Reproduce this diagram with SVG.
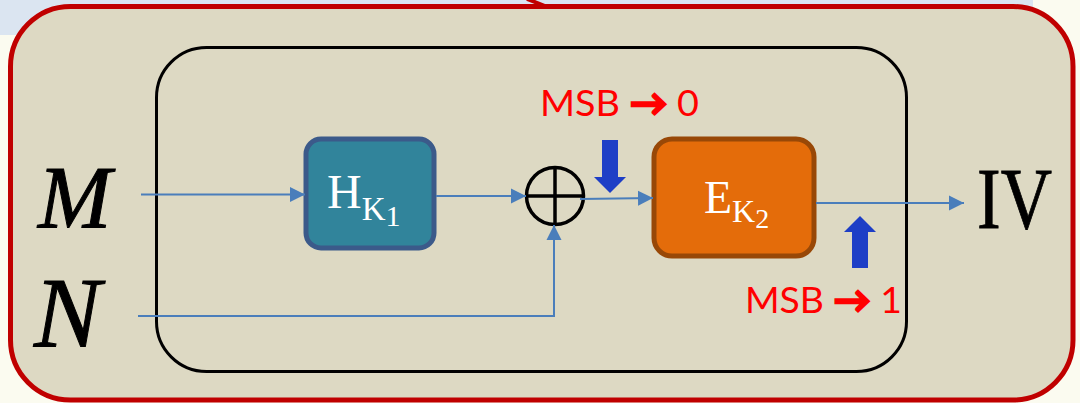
<svg xmlns="http://www.w3.org/2000/svg" width="1080" height="403" viewBox="0 0 1080 403">
<defs>
<style>
.conn{fill:none;stroke:#4a7ebb;stroke-width:2}
.math{font-family:"Liberation Serif","DejaVu Serif",serif;fill:#000}
.lbl{font-family:"Liberation Serif","DejaVu Serif",serif;fill:#fff}
.msb{font-family:Lato,"Open Sans","Liberation Sans",sans-serif;fill:#ff0000;font-size:36px}
.arr{font-weight:bold;stroke:#ff0000;stroke-width:2}
.barrow{fill:#1d3ec6}
</style>
<marker id="ah" markerWidth="16" markerHeight="16" viewBox="0 0 16 16" refX="15" refY="8" orient="auto" markerUnits="userSpaceOnUse">
<path d="M0,0.5 L15,8 L0,15.5 Z" fill="#4a7ebb"/>
</marker>
</defs>
<rect x="0" y="0" width="1080" height="403" fill="#fbfbf0"/>
<rect x="0" y="0" width="1033" height="35" fill="#dbe5f1"/>
<path d="M527,-1 L545,6" stroke="#c00000" stroke-width="4" fill="none"/>
<g id="outer">
<rect x="10.5" y="6.5" width="1062.5" height="393.5" rx="60" ry="60" fill="#ddd9c3" stroke="#c00000" stroke-width="5"/>
</g>
<g id="inner">
<rect x="156.5" y="47.5" width="750" height="324" rx="50" ry="50" fill="none" stroke="#000" stroke-width="3"/>
</g>
<g id="labelM"><text class="math" x="38" y="227" font-size="88" font-style="italic" stroke="#000" stroke-width="1">M</text></g>
<g id="labelN"><text class="math" x="34" y="346" font-size="100" font-style="italic" stroke="#000" stroke-width="1">N</text></g>
<g id="labelIV"><text class="math" x="977" y="228" font-size="86" textLength="75" lengthAdjust="spacingAndGlyphs" stroke="#000" stroke-width="0.8">IV</text></g>
<g id="H">
<rect x="306" y="139" width="128" height="109" rx="15" ry="15" fill="#31849b" stroke="#3b5a8a" stroke-width="5"/>
<text class="lbl" x="327" y="208" font-size="48">H<tspan font-size="33" dy="12">K</tspan><tspan font-size="30" dy="6">1</tspan></text>
</g>
<g id="E">
<rect x="654" y="139" width="160" height="117" rx="18" ry="18" fill="#e46c0a" stroke="#984807" stroke-width="5"/>
<text class="lbl" x="704" y="213" font-size="46">E<tspan font-size="32" dy="9">K</tspan><tspan font-size="28" dy="6">2</tspan></text>
</g>
<g id="xor">
<circle cx="555" cy="196" r="28.5" fill="none" stroke="#000" stroke-width="3.5"/>
<line x1="526.5" y1="196" x2="583.5" y2="196" stroke="#000" stroke-width="3.5"/>
<line x1="555" y1="167.5" x2="555" y2="224.5" stroke="#000" stroke-width="3.5"/>
</g>
<g id="arrow-down"><path class="barrow" d="M602,140 L618,140 L618,177 L626,177 L610,193 L594,177 L602,177 Z"/></g>
<g id="arrow-up"><path class="barrow" d="M852,268 L868,268 L868,232 L876,232 L860,216 L844,232 L852,232 Z"/></g>
<g id="msb0"><text class="msb" x="540" y="116" textLength="159" lengthAdjust="spacingAndGlyphs">MSB <tspan class="arr">→</tspan> 0</text></g>
<g id="msb1"><text class="msb" x="745" y="313" textLength="157" lengthAdjust="spacingAndGlyphs">MSB <tspan class="arr">→</tspan> 1</text></g>
<g id="connectors">
<path class="conn" d="M141,194.5 L305,194.5" marker-end="url(#ah)"/>
<path class="conn" d="M436,196 L526,196" marker-end="url(#ah)"/>
<path class="conn" d="M138,316 L554,316 L554,225" marker-end="url(#ah)"/>
<path class="conn" d="M580,199 L653,198" marker-end="url(#ah)"/>
<path class="conn" d="M816,203 L964,203" marker-end="url(#ah)"/>
</g>
</svg>
